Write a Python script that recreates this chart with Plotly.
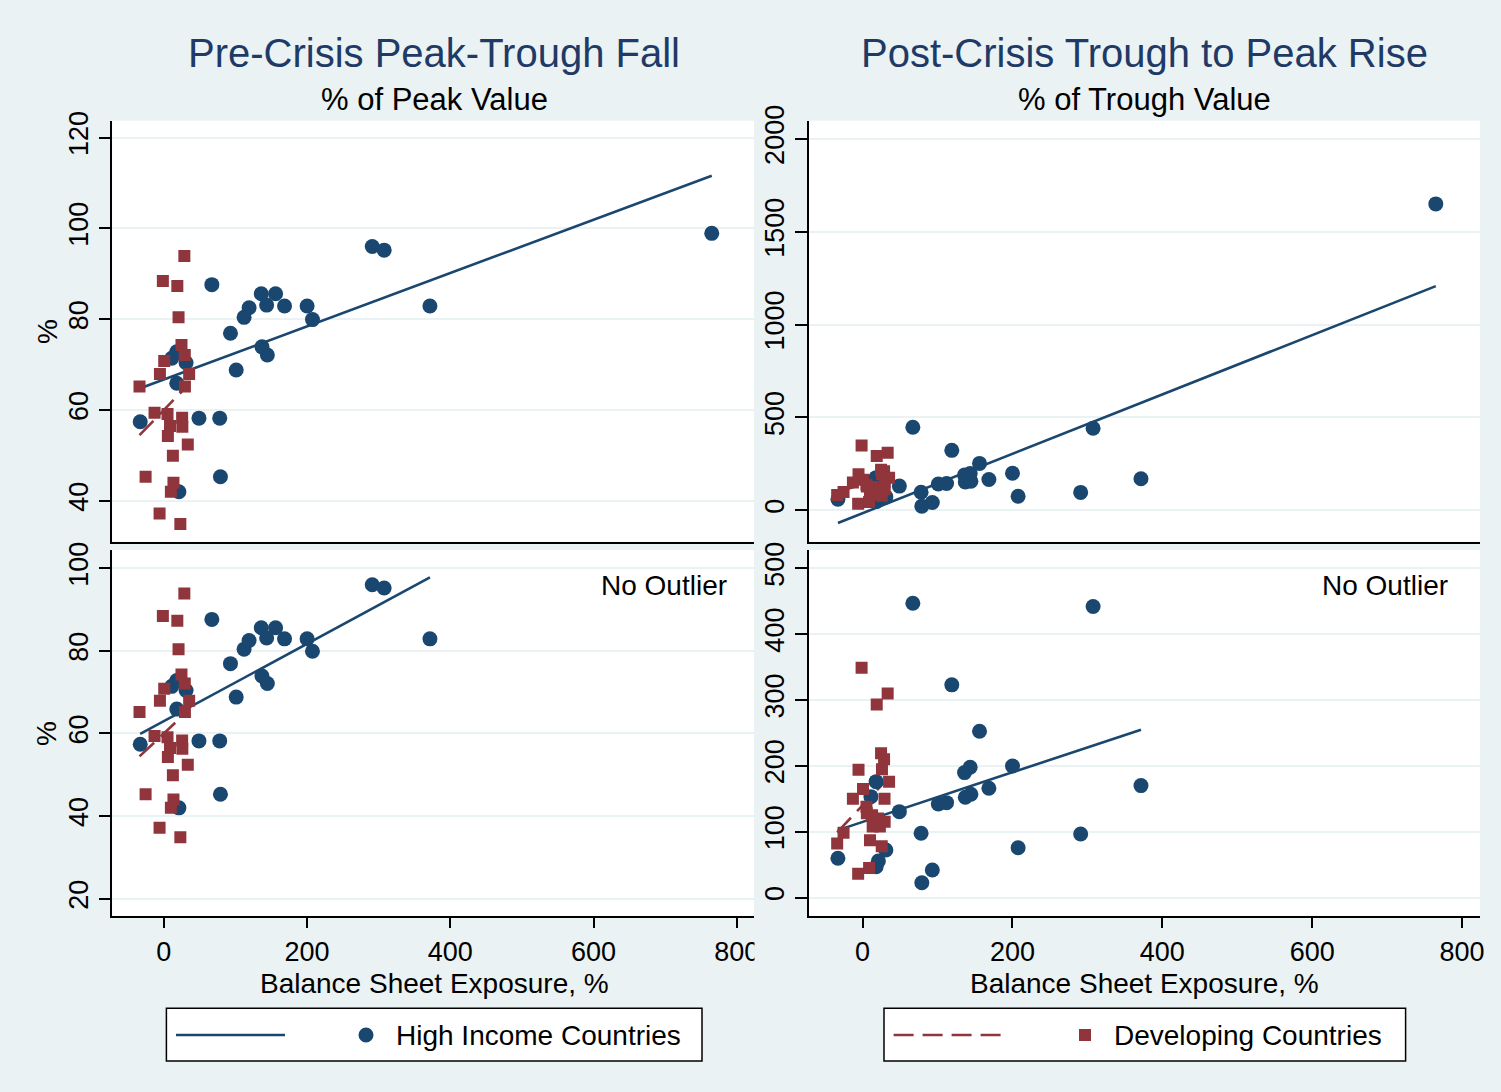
import numpy as np
import plotly.graph_objects as go

# ---------------- data ----------------
hi_exposure = [-33, 11, 18, 18, 21, 31, 49, 67, 78, 79, 93, 101, 112, 119, 136, 137,
               143.5, 144.5, 156, 168.5, 200, 207.5, 291, 307.6, 371.5, 765]
hi_fall = [57.4, 71.4, 72.8, 65.9, 42.0, 70.4, 58.2, 87.6, 58.2, 45.3, 76.9, 68.8, 80.4,
           82.5, 85.6, 73.9, 83.1, 72.1, 85.6, 82.9, 82.9, 79.9, 96.0, 95.2, 82.9, 98.9]
hi_rise = [59.6, 153.2, 176, 46.8, 55.5, 72.2, 130.4, 447, 97.6, 22.5, 41.8, 142.1, 144.1,
           323, 189.7, 152.3, 197.9, 156.8, 252.6, 166, 199.8, 75.7, 96.5, 442, 170, 1650]

dev_exposure = [-34, -25.5, -13, -6, -5.5, -1.4, 0.5, 5.1, 5.6, 8.6, 9.8, 12.6, 13.4,
                18.8, 20.5, 23, 24.6, 25.5, 25.8, 28.6, 29.2, 29.4, 33.4, 35.3]
dev_fall = [65.2, 45.3, 59.4, 37.2, 67.9, 88.4, 70.8, 59.1, 54.3, 56.5, 42.0, 49.9, 44.0,
            87.3, 80.4, 34.9, 74.3, 58.3, 56.3, 93.9, 72.1, 65.2, 52.4, 67.9]
dev_rise = [82, 98.5, 150, 36, 194, 349, 165, 138, 128, 45, 87, 125, 108,
            293, 120, 108, 219, 78, 195, 210, 150, 115, 310, 176]

outlier_cutoff = 500  # exposure above this is the outlier dropped in the lower panels

x_ticks = [0, 200, 400, 600, 800]
fall_ticks_top = [40, 60, 80, 100, 120]
rise_ticks_top = [0, 500, 1000, 1500, 2000]
fall_ticks_bottom = [20, 40, 60, 80, 100]
rise_ticks_bottom = [0, 100, 200, 300, 400, 500]

titles = ["Pre-Crisis Peak-Trough Fall", "Post-Crisis Trough to Peak Rise"]
subtitles = ["% of Peak Value", "% of Trough Value"]
x_title = "Balance Sheet Exposure, %"
legend_labels = ["High Income Countries", "Developing Countries"]

# ---------------- styling ----------------
W, H = 1501, 1092
BG = "#EAF2F3"
BLUE = "#1a476f"
RED = "#90353b"
TITLE_C = "#1f3a66"
FONT = "Liberation Sans, Arial, Helvetica, sans-serif"
DASH = "20px,9px"


def px(x):
    return x / W


def py(y):
    return 1 - y / H


fig = go.Figure()


def fit_line(x, y):
    x = np.asarray(x, float)
    y = np.asarray(y, float)
    b, a = np.polyfit(x, y, 1)
    xs = np.array([x.min(), x.max()])
    return xs, a + b * xs


def add_panel(xa, ya, hx, hy, dx, dy):
    # fit lines first (markers sit on top of them)
    fx, fy = fit_line(hx, hy)
    fig.add_trace(go.Scatter(x=fx, y=fy, mode="lines", xaxis=xa, yaxis=ya,
                             line=dict(color=BLUE, width=2.6), showlegend=False,
                             hoverinfo="skip"))
    fx, fy = fit_line(dx, dy)
    fig.add_trace(go.Scatter(x=fx, y=fy, mode="lines", xaxis=xa, yaxis=ya,
                             line=dict(color=RED, width=2.6, dash=DASH), showlegend=False,
                             hoverinfo="skip"))
    fig.add_trace(go.Scatter(x=hx, y=hy, mode="markers", xaxis=xa, yaxis=ya,
                             marker=dict(color=BLUE, size=15, symbol="circle", line=dict(width=0)),
                             showlegend=False))
    fig.add_trace(go.Scatter(x=dx, y=dy, mode="markers", xaxis=xa, yaxis=ya,
                             marker=dict(color=RED, size=12, symbol="square", line=dict(width=0)),
                             showlegend=False))


hx_all = hi_exposure
hx_no = [x for x in hi_exposure if x < outlier_cutoff]
hf_no = [y for x, y in zip(hi_exposure, hi_fall) if x < outlier_cutoff]
hr_no = [y for x, y in zip(hi_exposure, hi_rise) if x < outlier_cutoff]

add_panel("x", "y", hx_all, hi_fall, dev_exposure, dev_fall)
add_panel("x2", "y2", hx_all, hi_rise, dev_exposure, dev_rise)
add_panel("x3", "y3", hx_no, hf_no, dev_exposure, dev_fall)
add_panel("x4", "y4", hx_no, hr_no, dev_exposure, dev_rise)

left_dom = [px(112.3), px(754)]
right_dom = [px(808.7), px(1480)]
top_dom = [py(541.7), py(120.7)]
bot_dom = [py(915.7), py(550)]
x_range = [-72, 824]

axis_common = dict(showline=True, linecolor="black", linewidth=1.5, mirror=False,
                   zeroline=False, tickfont=dict(family=FONT, size=27, color="black"),
                   tickcolor="black", tickwidth=1.5, ticklen=12, automargin=False)

xa_top = dict(axis_common, range=x_range, showgrid=False, ticks="", showticklabels=False)
xa_bot = dict(axis_common, range=x_range, showgrid=False, ticks="outside", tickvals=x_ticks,
              ticklen=11)
ya_common = dict(axis_common, ticks="outside", tickangle=-90, showgrid=True,
                 gridcolor=BG, gridwidth=2)

fig.update_layout(
    width=W, height=H, autosize=False,
    margin=dict(l=0, r=0, t=0, b=0, pad=0, autoexpand=False),
    paper_bgcolor=BG, plot_bgcolor="white",
    font=dict(family=FONT, color="black"),
    showlegend=False,
    xaxis=dict(xa_top, domain=left_dom, anchor="y"),
    yaxis=dict(ya_common, domain=top_dom, anchor="x", range=[31.0, 123.7], tickvals=fall_ticks_top),
    xaxis2=dict(xa_top, domain=right_dom, anchor="y2"),
    yaxis2=dict(ya_common, domain=top_dom, anchor="x2", range=[-169, 2098], tickvals=rise_ticks_top),
    xaxis3=dict(xa_bot, domain=left_dom, anchor="y3"),
    yaxis3=dict(ya_common, domain=bot_dom, anchor="x3", range=[15.9, 104.4], tickvals=fall_ticks_bottom),
    xaxis4=dict(xa_bot, domain=right_dom, anchor="y4"),
    yaxis4=dict(ya_common, domain=bot_dom, anchor="x4", range=[-27.6, 527.8], tickvals=rise_ticks_bottom),
)

ann = []


def text(x, y, s, size, color="black", xanchor="center", angle=0):
    ann.append(dict(x=px(x), y=py(y), xref="paper", yref="paper", text=s, showarrow=False,
                    xanchor=xanchor, yanchor="middle", textangle=angle,
                    font=dict(family=FONT, size=size, color=color)))


text(434, 52.5, titles[0], 40, TITLE_C)
text(1144, 52.5, titles[1], 40, TITLE_C)
text(434, 99, subtitles[0], 31, "black")
text(1144, 99, subtitles[1], 31, "black")
text(729, 585, "No Outlier", 28, xanchor="right")
text(1450, 585, "No Outlier", 28, xanchor="right")
text(434, 983, x_title, 28)
text(1144, 983, x_title, 28)
text(47, 331, "%", 28, angle=-90)
text(47, 733, "%", 28, angle=-90)
text(394, 1035, legend_labels[0], 28, xanchor="left")
text(1112, 1035, legend_labels[1], 28, xanchor="left")

shapes = [
    # clip of the "800" label at the edge of the left graph
    dict(type="rect", xref="paper", yref="paper", x0=px(754.5), x1=px(806), y0=py(1000), y1=py(917),
         fillcolor=BG, line=dict(width=0), layer="above"),
    # legend boxes
    dict(type="rect", xref="paper", yref="paper", x0=px(166.4), x1=px(702), y0=py(1061), y1=py(1008.3),
         fillcolor="white", line=dict(color="black", width=1.5), layer="below"),
    dict(type="rect", xref="paper", yref="paper", x0=px(884), x1=px(1405.6), y0=py(1061), y1=py(1008.3),
         fillcolor="white", line=dict(color="black", width=1.5), layer="below"),
    dict(type="line", xref="paper", yref="paper", x0=px(176), x1=px(285), y0=py(1035), y1=py(1035),
         line=dict(color=BLUE, width=2.6)),
    dict(type="line", xref="paper", yref="paper", x0=px(893.6), x1=px(1003.7), y0=py(1035), y1=py(1035),
         line=dict(color=RED, width=2.6, dash=DASH)),
    dict(type="circle", xref="paper", yref="paper", x0=px(366 - 7.5), x1=px(366 + 7.5),
         y0=py(1035 + 7.5), y1=py(1035 - 7.5), fillcolor=BLUE, line=dict(width=0)),
    dict(type="rect", xref="paper", yref="paper", x0=px(1085 - 6), x1=px(1085 + 6),
         y0=py(1035 + 6), y1=py(1035 - 6), fillcolor=RED, line=dict(width=0)),
]

fig.update_layout(annotations=ann, shapes=shapes)
fig.write_html(
    "out.html",
    config={"displayModeBar": False},
    post_script="document.body.style.margin='0px';document.body.style.overflow='hidden';",
)
